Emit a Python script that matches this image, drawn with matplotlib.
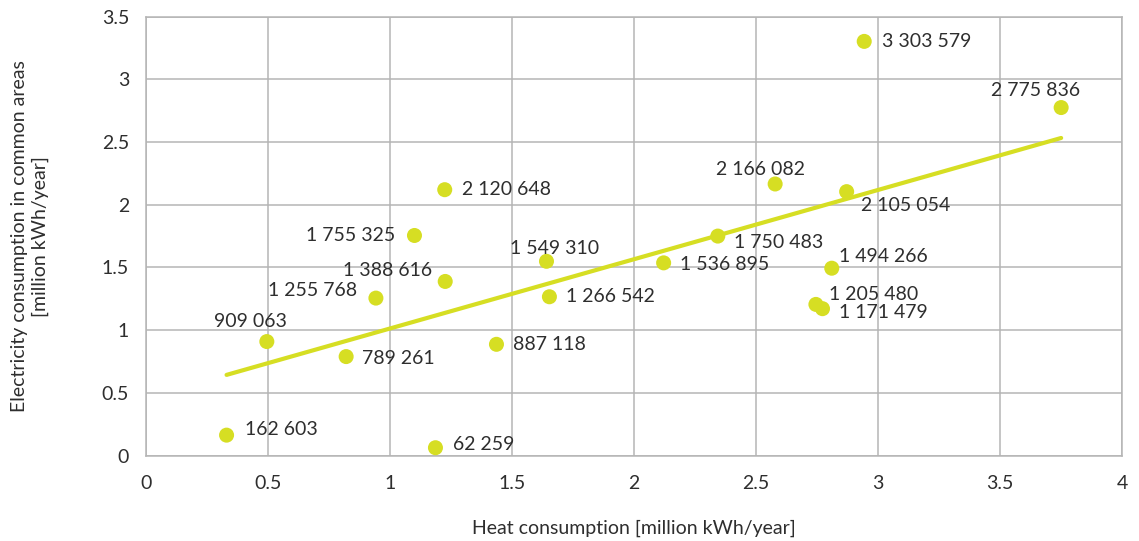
import numpy as np
import matplotlib.pyplot as plt

# heat (x) vs electricity in common areas (y), both million kWh/year
heat = [1.225, 1.101, 1.227, 0.943, 0.496, 0.821, 0.331, 1.187, 1.437, 1.642,
        1.654, 2.944, 3.751, 2.579, 2.872, 2.344, 2.122, 2.811, 2.746, 2.773]
elec_kwh = [2120648, 1755325, 1388616, 1255768, 909063, 789261, 162603, 62259,
            887118, 1549310, 1266542, 3303579, 2775836, 2166082, 2105054,
            1750483, 1536895, 1494266, 1205480, 1171479]
x_ticks = [0, 0.5, 1, 1.5, 2, 2.5, 3, 3.5, 4]
y_ticks = [0, 0.5, 1, 1.5, 2, 2.5, 3, 3.5]

# label placement: (dx px, dy px, ha)
offsets = [(17, 0, 'left'), (-19, 0, 'right'), (-13, 11, 'right'), (-19, 8, 'right'),
           (-16, 20, 'center'), (16, -2, 'left'), (18, 6, 'left'), (18, 3, 'left'),
           (17, 0, 'left'), (8, 13, 'center'), (17, 0, 'left'), (18, 0, 'left'),
           (-26, 17, 'center'), (-15, 14, 'center'), (14, -14, 'left'), (16, -6, 'left'),
           (16, -2, 'left'), (7, 12, 'left'), (13, 10, 'left'), (17, -4, 'left')]

plt.rcParams['font.family'] = ['Lato', 'DejaVu Sans']
txt = '#2e2e2e'
green = '#d6de23'
grid_c = '#b5b5b5'

x = np.array(heat)
y = np.array(elec_kwh) / 1e6

fig = plt.figure(figsize=(11.39, 5.41), dpi=100)
ax = fig.add_axes([0.128, 0.158, 0.857, 0.811])

k, b = np.polyfit(x, y, 1)
xl = np.array([x.min(), x.max()])
ax.plot(xl, k * xl + b, color=green, lw=3, solid_capstyle='round', zorder=2)
ax.scatter(x, y, s=117, color=green, edgecolors='none', zorder=3)

for xi, yi, v, (dx, dy, ha) in zip(x, y, elec_kwh, offsets):
    lab = f'{v:,}'.replace(',', ' ')
    ax.annotate(lab, (xi, yi), xytext=(dx, dy), textcoords='offset pixels',
                ha=ha, va='center', fontsize=14, color=txt, zorder=4)

ax.set_xlim(0, 4)
ax.set_ylim(0, 3.5)
ax.set_xticks(x_ticks)
ax.set_yticks(y_ticks)
ax.set_xticklabels([f'{t:g}' for t in x_ticks])
ax.set_yticklabels([f'{t:g}' for t in y_ticks])
ax.tick_params(length=0, labelsize=14, labelcolor=txt)
ax.tick_params(axis='x', pad=14)
ax.tick_params(axis='y', pad=12)
ax.grid(True, color=grid_c, lw=1.1)
ax.set_axisbelow(True)
for s in ax.spines.values():
    s.set_color(grid_c)
    s.set_linewidth(1.1)

ax.set_xlabel('Heat consumption [million kWh/year]', fontsize=14, color=txt, labelpad=20)
ax.set_ylabel('Electricity consumption in common areas\n[million kWh/year]',
              fontsize=14, color=txt, labelpad=38, linespacing=1.25)

fig.savefig('out.png', dpi=100)
